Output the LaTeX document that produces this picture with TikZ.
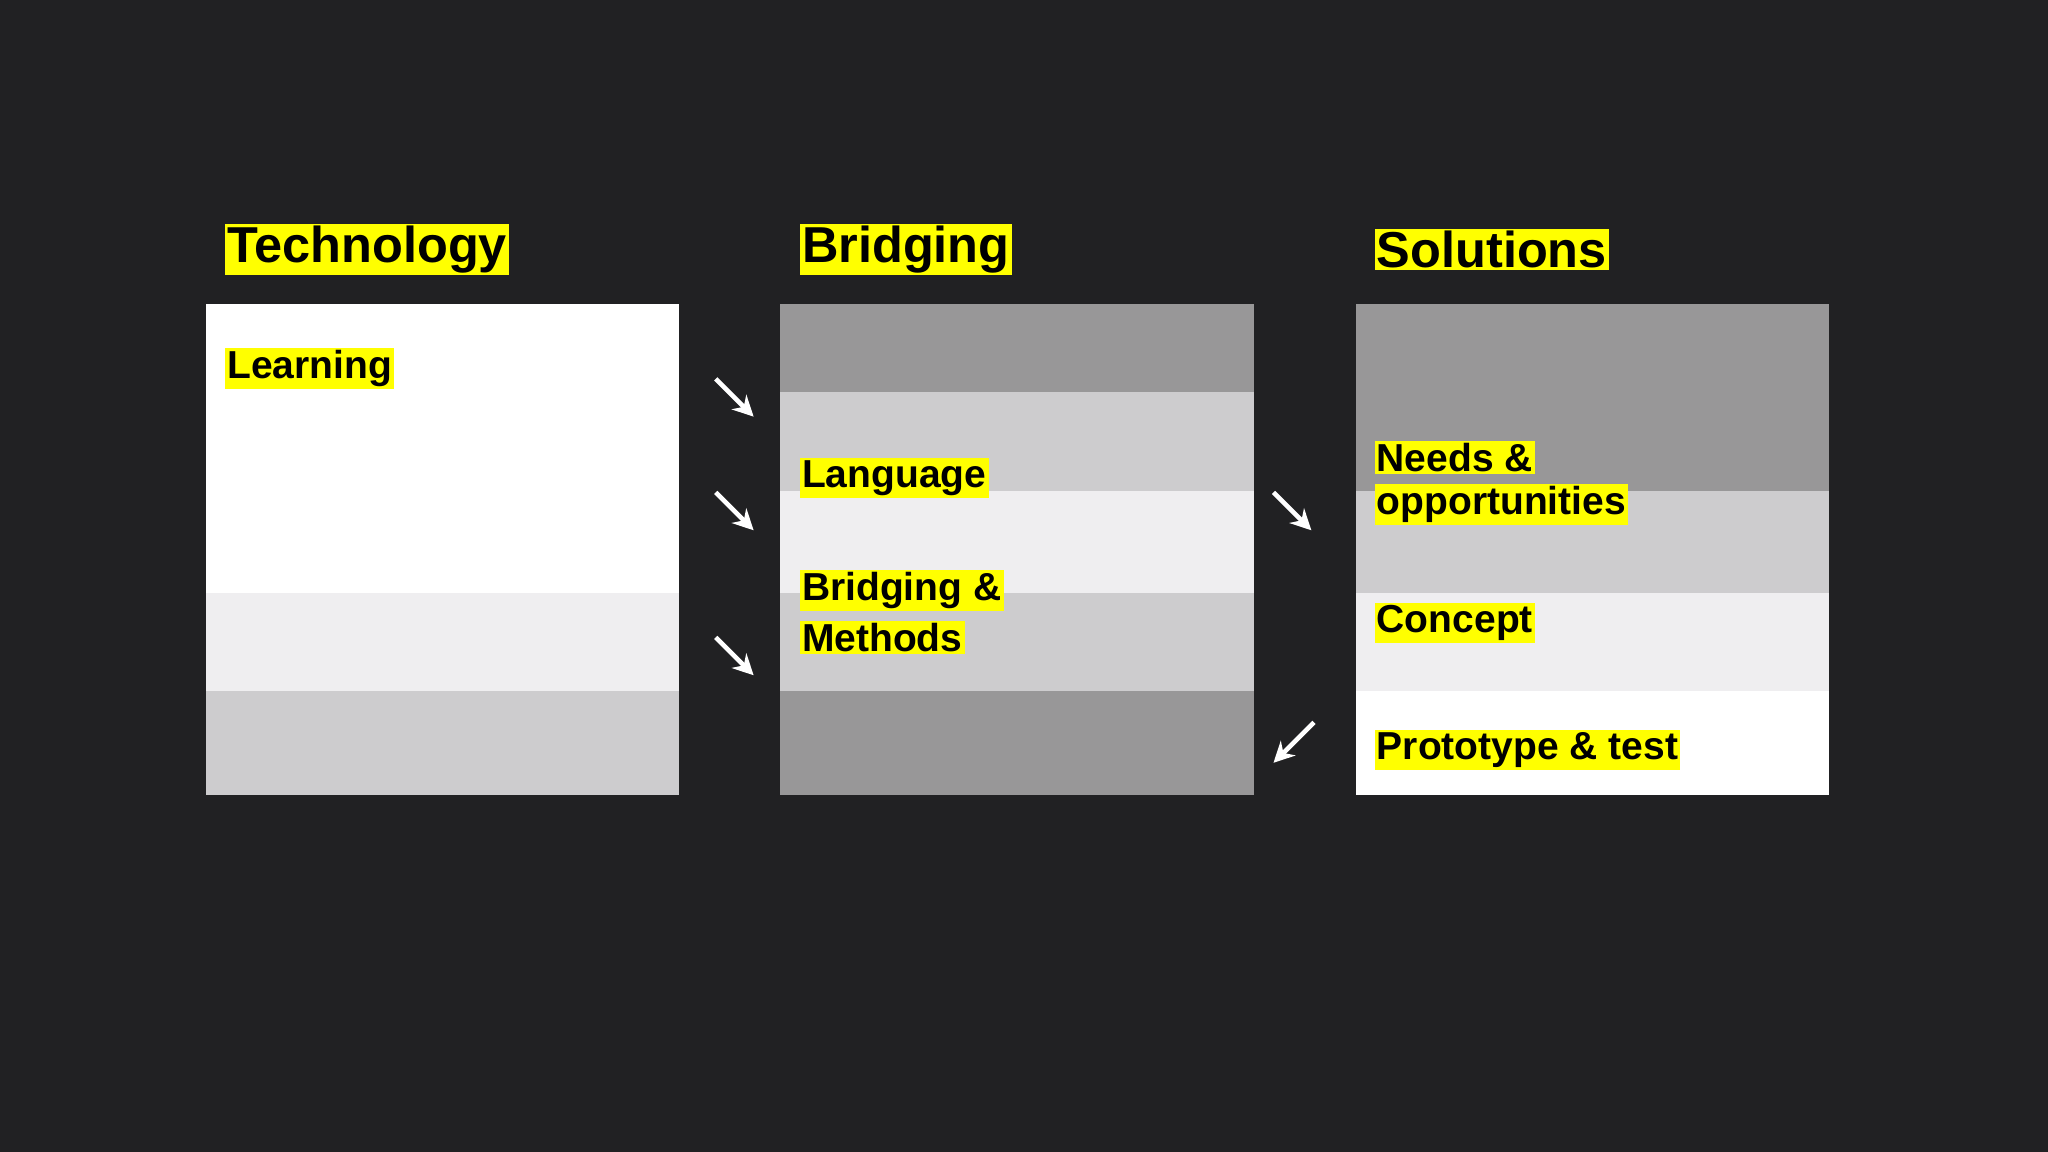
\documentclass[tikz,border=0pt]{standalone}
\usepackage{fontspec}
\setmainfont{Liberation Sans}
\definecolor{bg}{HTML}{212123}
\definecolor{hl}{HTML}{FFFF00}
\definecolor{dg}{HTML}{989798}
\definecolor{mg}{HTML}{CDCCCE}
\definecolor{lg}{HTML}{EFEEF0}
\tikzset{
  title/.style={fill=hl,text=black,font=\fontsize{22}{24}\selectfont\bfseries,inner sep=1pt,anchor=west},
  lab/.style={fill=hl,text=black,font=\fontsize{17}{19}\selectfont\bfseries,inner sep=1pt,anchor=west},
  arr/.style={white,line width=2pt,-{Stealth[length=9pt,width=9pt]}}
}
\usetikzlibrary{arrows.meta}
\begin{document}
\begin{tikzpicture}[x=0.02cm,y=-0.02cm]
\fill[bg] (0,0) rectangle (1568,882);
\useasboundingbox (0,0) rectangle (1568,882);
% Technology
\fill[white] (158,233) rectangle (520,454);
\fill[lg] (158,454) rectangle (520,529);
\fill[mg] (158,529) rectangle (520,609);
% Bridging
\fill[dg] (597,233) rectangle (960,300);
\fill[mg] (597,300) rectangle (960,376);
\fill[lg] (597,376) rectangle (960,454);
\fill[mg] (597,454) rectangle (960,529);
\fill[dg] (597,529) rectangle (960,609);
% Solutions
\fill[dg] (1038,233) rectangle (1400,376);
\fill[mg] (1038,376) rectangle (1400,454);
\fill[lg] (1038,454) rectangle (1400,529);
\fill[white] (1038,529) rectangle (1400,609);
% titles
\node[title] (t1) at (172,191) {Technology};
\node[title] (t2) at (612,191) {Bridging};
\node[title] (t3) at (1052,191) {Solutions};
% labels
\node[lab] (l1) at (172,282) {Learning};
\node[lab] (l2) at (612,366) {Language};
\node[lab] (l3a) at (612,452) {Bridging \&};
\node[lab] (l3b) at (612,488) {Methods};
\node[lab] (l4a) at (1052,350) {Needs \&};
\node[lab] (l4b) at (1052,386) {opportunities};
\node[lab] (l5) at (1052,477) {Concept};
\node[lab] (l6) at (1052,574) {Prototype \& test};
% arrows
\coordinate (a1s) at (548,290); \coordinate (a1e) at (577,319);
\coordinate (a2s) at (548,377); \coordinate (a2e) at (577,406);
\coordinate (a3s) at (548,488); \coordinate (a3e) at (577,517);
\coordinate (a4s) at (975,377); \coordinate (a4e) at (1004,406);
\coordinate (a5s) at (1006,553); \coordinate (a5e) at (975,584);
\draw[arr] (a1s) -- (a1e);
\draw[arr] (a2s) -- (a2e);
\draw[arr] (a3s) -- (a3e);
\draw[arr] (a4s) -- (a4e);
\draw[arr] (a5s) -- (a5e);
\end{tikzpicture}
\end{document}
